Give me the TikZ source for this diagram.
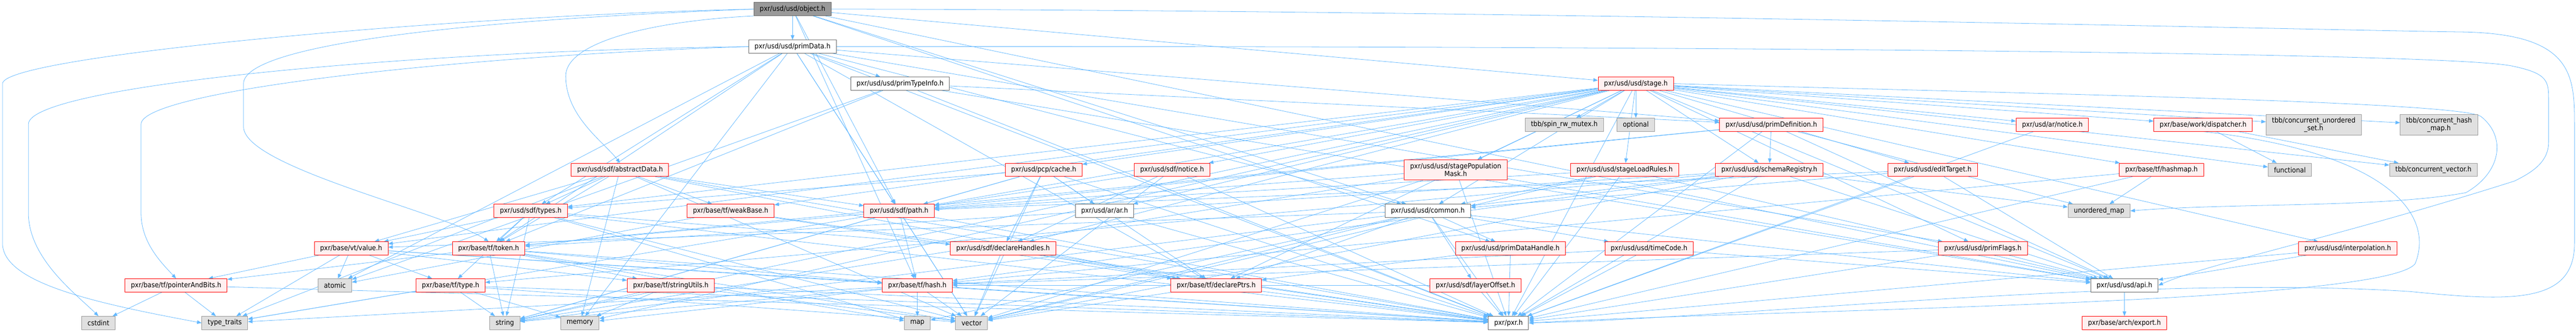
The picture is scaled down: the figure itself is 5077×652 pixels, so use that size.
\documentclass[tikz,border=0pt]{standalone}
\usepackage{fontspec}
\setmainfont{DejaVu Sans Condensed}
\usetikzlibrary{arrows.meta, backgrounds}
\definecolor{incblue}{HTML}{63B8FF}
\definecolor{redfill}{HTML}{FFF0F0}
\definecolor{sysfill}{HTML}{E0E0E0}
\definecolor{sysdraw}{HTML}{999999}
\definecolor{rootfill}{HTML}{999999}
\definecolor{docdraw}{HTML}{666666}
\begin{document}
\begin{tikzpicture}[x=1pt, y=-1pt,
  hdr/.style={draw, line width=1pt, font=\fontsize{14}{15.5}\selectfont, inner xsep=11.5pt, inner ysep=0pt, minimum height=26pt, align=center},
  roothdr/.style={hdr, fill=rootfill, draw=docdraw},
  plainhdr/.style={hdr, fill=white, draw=docdraw},
  redhdr/.style={hdr, fill=redfill, draw=red},
  syshdr/.style={hdr, fill=sysfill, draw=sysdraw},
  incl/.style={-{Triangle[length=9pt,width=7pt]}, incblue, line width=0.8pt}]
\useasboundingbox (0,0) rectangle (5077,652);

\node[roothdr] (Obj) at (1562,18) {pxr/usd/usd/object.h};
\node[plainhdr] (PrimData) at (1562,92) {pxr/usd/usd/primData.h};
\node[plainhdr] (PrimTypeInfo) at (1774,165) {pxr/usd/usd/primTypeInfo.h};
\node[redhdr] (Stage) at (3224,165) {pxr/usd/usd/stage.h};

\node[syshdr] (SpinMutex) at (3083,246) {tbb/spin\_rw\_mutex.h};
\node[syshdr] (Optional) at (3224,246) {optional};
\node[redhdr] (PrimDef) at (3491,246) {pxr/usd/usd/primDefinition.h};
\node[redhdr] (ArNotice) at (4045,246) {pxr/usd/ar/notice.h};
\node[redhdr] (Dispatcher) at (4342,246) {pxr/base/work/dispatcher.h};
\node[syshdr, minimum height=41pt] (ConcUSet) at (4560,246) {tbb/concurrent\_unordered\\\_set.h};
\node[syshdr, minimum height=41pt] (ConcHMap) at (4807,246) {tbb/concurrent\_hash\\\_map.h};

\node[redhdr] (AbstractData) at (1222,335) {pxr/usd/sdf/abstractData.h};
\node[redhdr] (PcpCache) at (2057,335) {pxr/usd/pcp/cache.h};
\node[redhdr] (SdfNotice) at (2310,335) {pxr/usd/sdf/notice.h};
\node[redhdr, minimum height=40pt] (PopMask) at (2869,335) {pxr/usd/usd/stagePopulation\\Mask.h};
\node[redhdr] (LoadRules) at (3202,335) {pxr/usd/usd/stageLoadRules.h};
\node[redhdr] (SchemaReg) at (3487,335) {pxr/usd/usd/schemaRegistry.h};
\node[redhdr] (EditTarget) at (3809,335) {pxr/usd/usd/editTarget.h};
\node[redhdr] (TfHashmap) at (4260,335) {pxr/base/tf/hashmap.h};
\node[syshdr] (Functional) at (4513,335) {functional};
\node[syshdr] (ConcVector) at (4796,335) {tbb/concurrent\_vector.h};

\node[redhdr] (SdfTypes) at (1046,416) {pxr/usd/sdf/types.h};
\node[redhdr] (WeakBase) at (1440,416) {pxr/base/tf/weakBase.h};
\node[redhdr] (SdfPath) at (1772,416) {pxr/usd/sdf/path.h};
\node[plainhdr] (ArAr) at (2177,416) {pxr/usd/ar/ar.h};
\node[plainhdr] (Common) at (2814,416) {pxr/usd/usd/common.h};
\node[syshdr] (UnorderedMap) at (4137,416) {unordered\_map};

\node[redhdr] (VtValue) at (692,490) {pxr/base/vt/value.h};
\node[redhdr] (TfToken) at (963,490) {pxr/base/tf/token.h};
\node[redhdr] (DeclHandles) at (1977,490) {pxr/usd/sdf/declareHandles.h};
\node[redhdr] (PrimDataHandle) at (2977,490) {pxr/usd/usd/primDataHandle.h};
\node[redhdr] (TimeCode) at (3250,490) {pxr/usd/usd/timeCode.h};
\node[redhdr] (PrimFlags) at (3908,490) {pxr/usd/usd/primFlags.h};
\node[redhdr] (Interpolation) at (4627,490) {pxr/usd/usd/interpolation.h};

\node[redhdr] (PointerAndBits) at (347,563) {pxr/base/tf/pointerAndBits.h};
\node[syshdr] (Atomic) at (660,563) {atomic};
\node[redhdr] (TfType) at (888,563) {pxr/base/tf/type.h};
\node[redhdr] (StringUtils) at (1322,563) {pxr/base/tf/stringUtils.h};
\node[redhdr] (TfHash) at (1808,563) {pxr/base/tf/hash.h};
\node[redhdr] (DeclarePtrs) at (2397,563) {pxr/base/tf/declarePtrs.h};
\node[redhdr] (LayerOffset) at (2908,563) {pxr/usd/sdf/layerOffset.h};
\node[plainhdr] (UsdApi) at (4187,563) {pxr/usd/usd/api.h};

\node[syshdr] (Cstdint) at (194,637) {cstdint};
\node[syshdr] (TypeTraits) at (443,637) {type\_traits};
\node[syshdr] (String) at (995,637) {string};
\node[syshdr] (Memory) at (1143,637) {memory};
\node[syshdr] (Map) at (1808,637) {map};
\node[syshdr] (Vector) at (1915,637) {vector};
\node[plainhdr] (PxrH) at (2973,637) {pxr/pxr.h};
\node[redhdr] (Export) at (4187,637) {pxr/base/arch/export.h};

\begin{scope}[on background layer]
\draw[incl] (Obj) -- (PrimData);
\draw[incl] (Obj) -- (Stage);
\draw[incl] (Obj) -- (SdfPath);
\draw[incl] (Obj) -- (TfHash);
\draw[incl] (Obj) -- (Common);
\draw[incl] (Obj) -- (PrimDataHandle);
\draw[incl] (Obj) -- (UsdApi);
\draw[incl] (Obj.south west) .. controls (1300,40) and (1115,80) .. (1115,150) .. controls (1115,230) and (1190,280) .. (AbstractData.north);
\draw[incl] (Obj.west) .. controls (900,40) and (480,90) .. (480,165) -- (480,250) .. controls (480,330) and (880,420) .. (TfToken.north);
\draw[incl] (Obj.west) .. controls (900,30) and (5,110) .. (5,165) -- (5,480) .. controls (5,560) and (200,600) .. (TypeTraits.west);
\draw[incl] (Obj.east) .. controls (3000,20) and (4600,60) .. (4850,63) .. controls (5074,66) and (5074,150) .. (5074,250) -- (5074,480) .. controls (5074,600) and (4950,595) .. (4750,575) .. controls (4200,540) and (3400,630) .. (PxrH.east);

\draw[incl] (PrimData) -- (PrimTypeInfo);
\draw[incl] (PrimData) -- (PrimDef);
\draw[incl] (PrimData) -- (PrimFlags);
\draw[incl] (PrimData) -- (SdfTypes);
\draw[incl] (PrimData) -- (SdfPath);
\draw[incl] (PrimData) -- (TfToken);
\draw[incl] (PrimData) -- (DeclarePtrs);
\draw[incl] (PrimData) -- (Common);
\draw[incl] (PrimData) -- (Atomic);
\draw[incl] (PrimData) -- (Vector);
\draw[incl] (PrimData) -- (Memory);
\draw[incl] (PrimData) -- (PxrH);
\draw[incl] (PrimData.west) .. controls (900,110) and (278,180) .. (278,245) -- (278,420) .. controls (278,480) and (320,520) .. (PointerAndBits.north);
\draw[incl] (PrimData.west) .. controls (800,100) and (56,170) .. (56,245) -- (56,420) .. controls (56,510) and (150,580) .. (Cstdint.north);
\draw[incl] (PrimData.east) .. controls (3000,90) and (4800,100) .. (4950,130) .. controls (5023,145) and (5023,160) .. (5023,200) -- (5023,280) .. controls (5023,320) and (4990,340) .. (4956,357) .. controls (4600,470) and (4350,520) .. (UsdApi.east);

\draw[incl] (PrimTypeInfo) -- (PrimDef);
\draw[incl] (PrimTypeInfo) -- (TfToken);
\draw[incl] (PrimTypeInfo) -- (Atomic);
\draw[incl] (PrimTypeInfo) -- (UsdApi);
\draw[incl] (PrimTypeInfo) -- (PxrH);

\draw[incl] (Stage) -- (SpinMutex);
\draw[incl] (Stage) -- (Optional);
\draw[incl] (Stage) -- (SchemaReg);
\draw[incl] (Stage) -- (EditTarget);
\draw[incl] (Stage) -- (LoadRules);
\draw[incl] (Stage) -- (PopMask);
\draw[incl] (Stage) -- (Common);
\draw[incl] (Stage) -- (PrimFlags);
\draw[incl] (Stage) -- (Interpolation);
\draw[incl] (Stage) -- (TfHashmap);
\draw[incl] (Stage) -- (WeakBase);
\draw[incl] (Stage) -- (DeclarePtrs);
\draw[incl] (Stage) -- (ArAr);
\draw[incl] (Stage) -- (ArNotice);
\draw[incl] (Stage) -- (PcpCache);
\draw[incl] (Stage) -- (DeclHandles);
\draw[incl] (Stage) -- (SdfNotice);
\draw[incl] (Stage) -- (SdfPath);
\draw[incl] (Stage) -- (SdfTypes);
\draw[incl] (Stage) -- (VtValue);
\draw[incl] (Stage) -- (Dispatcher);
\draw[incl] (Stage) -- (ConcVector);
\draw[incl] (Stage) -- (ConcUSet);
\draw[incl] (Stage) -- (ConcHMap);
\draw[incl] (Stage) -- (Functional);
\draw[incl] (Stage) -- (String);
\draw[incl] (Stage) -- (Memory);
\draw[incl] (Stage) -- (UsdApi);
\draw[incl] (Stage) -- (PxrH);
\draw[incl] (Stage.east) .. controls (4000,185) and (4850,200) .. (4890,230) .. controls (4940,270) and (4930,340) .. (4860,380) .. controls (4700,410) and (4400,400) .. (UnorderedMap.east);

\draw[incl] (Common) -- (PrimDataHandle);
\draw[incl] (Common) -- (TimeCode);
\draw[incl] (Common) -- (LayerOffset);
\draw[incl] (Common) -- (DeclarePtrs);
\draw[incl] (Common) -- (VtValue);
\draw[incl] (Common) -- (Map);
\draw[incl] (Common) -- (String);
\draw[incl] (Common) -- (Vector);
\draw[incl] (Common) -- (UsdApi);
\draw[incl] (Common) -- (PxrH);

\draw[incl] (PopMask) -- (SdfPath);
\draw[incl] (PopMask) -- (UsdApi);
\draw[incl] (PopMask) -- (PxrH);
\draw[incl] (PopMask) -- (Vector);
\draw[incl] (PopMask) -- (String);

\draw[incl] (LoadRules) -- (Common);
\draw[incl] (LoadRules) -- (SdfPath);
\draw[incl] (LoadRules) -- (UsdApi);
\draw[incl] (LoadRules) -- (PxrH);
\draw[incl] (LoadRules) -- (Vector);

\draw[incl] (SchemaReg) -- (Common);
\draw[incl] (SchemaReg) -- (UsdApi);
\draw[incl] (SchemaReg) -- (TfHash);
\draw[incl] (SchemaReg) -- (TfToken);
\draw[incl] (SchemaReg) -- (TfType);
\draw[incl] (SchemaReg) -- (UnorderedMap);
\draw[incl] (SchemaReg) -- (Vector);
\draw[incl] (SchemaReg) -- (PxrH);

\draw[incl] (PrimDef) -- (SchemaReg);
\draw[incl] (PrimDef) -- (UsdApi);
\draw[incl] (PrimDef) -- (PxrH);
\draw[incl] (PrimDef) -- (SdfPath);
\draw[incl] (PrimDef) -- (TfToken);
\draw[incl] (PrimDef) -- (UnorderedMap);

\draw[incl] (EditTarget) -- (Common);
\draw[incl] (EditTarget) -- (SdfPath);
\draw[incl] (EditTarget) -- (UsdApi);
\draw[incl] (EditTarget) -- (PxrH);

\draw[incl] (ArNotice) -- (PxrH);
\draw[incl] (Dispatcher) -- (Functional);
\draw[incl] (Dispatcher) -- (ConcVector);
\draw[incl] (Dispatcher.south) .. controls (4700,300) and (4800,420) .. (4760,520) .. controls (4700,600) and (3500,610) .. (PxrH.east);
\draw[incl] (TfHashmap) -- (UnorderedMap);
\draw[incl] (TfHashmap) -- (TfHash);
\draw[incl] (TfHashmap) -- (PxrH);
\draw[incl] (Interpolation) -- (UsdApi);
\draw[incl] (Interpolation) -- (PxrH);
\draw[incl] (PrimFlags) -- (UsdApi);
\draw[incl] (PrimFlags) -- (PxrH);
\draw[incl] (PrimFlags) -- (TfHash);

\draw[incl] (PcpCache) -- (SdfPath);
\draw[incl] (PcpCache) -- (DeclHandles);
\draw[incl] (PcpCache) -- (DeclarePtrs);
\draw[incl] (PcpCache) -- (ArAr);
\draw[incl] (PcpCache) -- (SdfTypes);
\draw[incl] (PcpCache) -- (Vector);
\draw[incl] (PcpCache) -- (String);
\draw[incl] (PcpCache) -- (PxrH);

\draw[incl] (SdfNotice) -- (DeclHandles);
\draw[incl] (SdfNotice) -- (SdfPath);
\draw[incl] (SdfNotice) -- (PxrH);
\draw[incl] (SdfNotice) -- (Vector);
\draw[incl] (ArAr) -- (PxrH);

\draw[incl] (AbstractData) -- (SdfTypes);
\draw[incl] (AbstractData) -- (TfToken);
\draw[incl] (AbstractData) -- (WeakBase);
\draw[incl] (AbstractData) -- (SdfPath);
\draw[incl] (AbstractData) -- (VtValue);
\draw[incl] (AbstractData) -- (DeclarePtrs);
\draw[incl] (AbstractData) -- (Vector);
\draw[incl] (AbstractData) -- (Memory);
\draw[incl] (AbstractData) -- (TypeTraits);
\draw[incl] (AbstractData) -- (PxrH);

\draw[incl] (SdfTypes) -- (DeclHandles);
\draw[incl] (SdfTypes) -- (TfToken);
\draw[incl] (SdfTypes) -- (TfType);
\draw[incl] (SdfTypes) -- (VtValue);
\draw[incl] (SdfTypes) -- (Map);
\draw[incl] (SdfTypes) -- (String);
\draw[incl] (SdfTypes) -- (Vector);
\draw[incl] (SdfTypes) -- (PxrH);

\draw[incl] (WeakBase) -- (Atomic);
\draw[incl] (WeakBase) -- (DeclarePtrs);
\draw[incl] (WeakBase) -- (PxrH);

\draw[incl] (SdfPath) -- (TfToken);
\draw[incl] (SdfPath) -- (TfHash);
\draw[incl] (SdfPath) -- (Vector);
\draw[incl] (SdfPath) -- (String);
\draw[incl] (SdfPath) -- (TypeTraits);
\draw[incl] (SdfPath) -- (PxrH);

\draw[incl] (VtValue) -- (PointerAndBits);
\draw[incl] (VtValue) -- (TypeTraits);
\draw[incl] (VtValue) -- (TfType);
\draw[incl] (VtValue) -- (TfHash);
\draw[incl] (VtValue) -- (StringUtils);
\draw[incl] (VtValue) -- (Atomic);
\draw[incl] (VtValue) -- (PxrH);

\draw[incl] (TfToken) -- (PointerAndBits);
\draw[incl] (TfToken) -- (TfHash);
\draw[incl] (TfToken) -- (StringUtils);
\draw[incl] (TfToken) -- (String);
\draw[incl] (TfToken) -- (Vector);
\draw[incl] (TfToken) -- (Map);
\draw[incl] (TfToken) -- (PxrH);

\draw[incl] (DeclHandles) -- (DeclarePtrs);
\draw[incl] (DeclHandles) -- (Vector);
\draw[incl] (DeclHandles) -- (PxrH);
\draw[incl] (PrimDataHandle) -- (DeclarePtrs);
\draw[incl] (PrimDataHandle) -- (PxrH);
\draw[incl] (TimeCode) -- (TfHash);
\draw[incl] (TimeCode) -- (UsdApi);
\draw[incl] (TimeCode) -- (PxrH);
\draw[incl] (LayerOffset) -- (TfHash);
\draw[incl] (LayerOffset) -- (PxrH);

\draw[incl] (PointerAndBits) -- (Cstdint);
\draw[incl] (PointerAndBits) -- (TypeTraits);
\draw[incl] (PointerAndBits) -- (PxrH);
\draw[incl] (TfType) -- (String);
\draw[incl] (TfType) -- (Memory);
\draw[incl] (TfType) -- (Vector);
\draw[incl] (TfType) -- (TypeTraits);
\draw[incl] (TfType) -- (PxrH);
\draw[incl] (StringUtils) -- (String);
\draw[incl] (StringUtils) -- (Vector);
\draw[incl] (StringUtils) -- (Memory);
\draw[incl] (StringUtils) -- (PxrH);
\draw[incl] (TfHash) -- (Map);
\draw[incl] (TfHash) -- (Vector);
\draw[incl] (TfHash) -- (String);
\draw[incl] (TfHash) -- (Memory);
\draw[incl] (TfHash) -- (TypeTraits);
\draw[incl] (TfHash) -- (PxrH);
\draw[incl] (DeclarePtrs) -- (Vector);
\draw[incl] (DeclarePtrs) -- (PxrH);
\draw[incl] (UsdApi) -- (Export);
\end{scope}
\end{tikzpicture}
\end{document}
